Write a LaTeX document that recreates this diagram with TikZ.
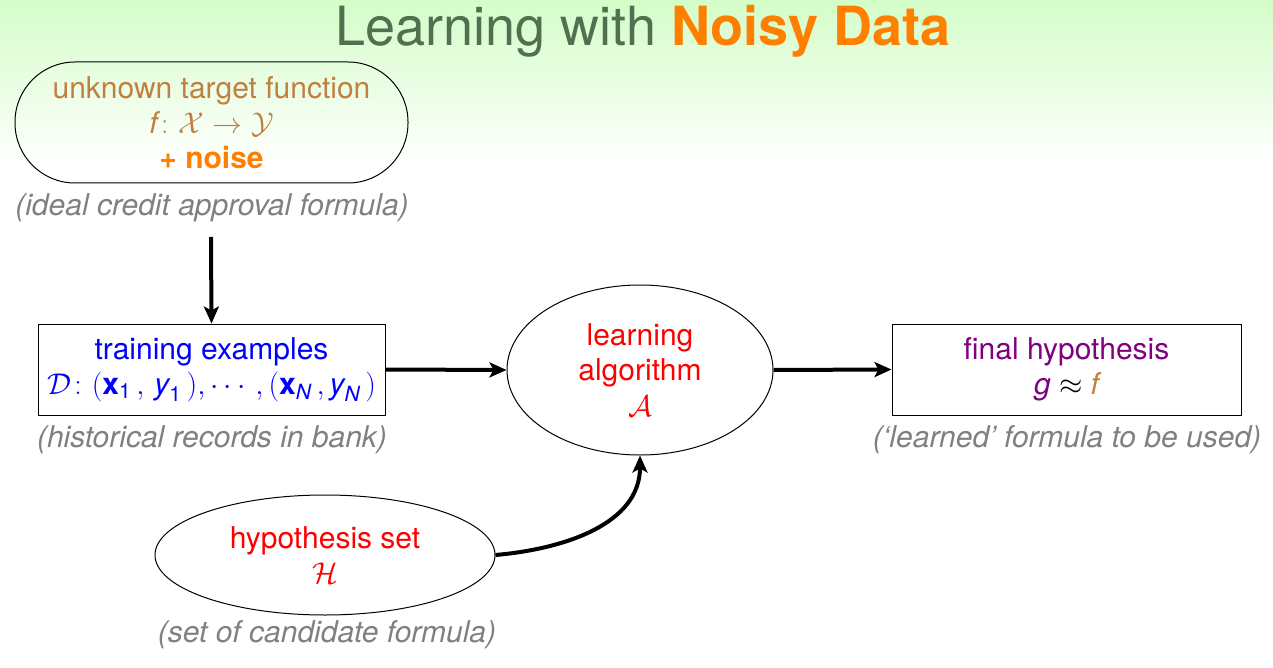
\documentclass[tikz,border=0pt]{standalone}
\usepackage{fix-cm}
\usepackage{amsmath}
\usepackage{fontspec}
\setmainfont{TeX Gyre Heros}
\usetikzlibrary{shapes.geometric,arrows.meta}

\definecolor{titlegreen}{RGB}{80,112,80}
\definecolor{noiseorange}{RGB}{255,128,0}
\definecolor{targetbrown}{RGB}{192,128,64}
\definecolor{capgray}{RGB}{128,128,128}
\definecolor{hypopurple}{RGB}{128,0,128}
\definecolor{bgtop}{RGB}{212,253,200}

\tikzset{
  txt/.style={font=\fontsize{30}{35}\selectfont, align=center},
  caption/.style={txt, text=capgray, font=\fontsize{30}{35}\selectfont\itshape},
  rectbox/.style={txt, draw, line width=1pt, minimum height=91pt, inner sep=0pt},
  ellnode/.style={txt, draw, ellipse, line width=1pt, inner sep=0pt},
  arr/.style={line width=4pt, -{Stealth[length=17pt,width=15pt,inset=4pt]}},
}

\begin{document}
\begin{tikzpicture}[x=1pt, y=-1pt]
  \useasboundingbox (0,0) rectangle (1273,668);
  % soft green band behind the title
  \shade[top color=bgtop, bottom color=white] (0,0) rectangle (1273,165);

  % title
  \node[font=\fontsize{54}{62}\selectfont, anchor=base] (title) at (643,46)
    {\textcolor{titlegreen}{Learning with} \textcolor{noiseorange}{\bfseries Noisy Data}};

  % target function
  \node[txt, draw, line width=1pt, rounded corners=60pt, minimum width=393pt,
        minimum height=121pt, inner sep=0pt, text=targetbrown] (target) at (211.5,122.5)
    {unknown target function\\
     $\textit{f}\colon \mathcal{X}\to\mathcal{Y}$\\
     \textcolor{noiseorange}{\bfseries + noise}};
  \node[caption] (targetcap) at (212,208) {(ideal credit approval formula)};
  \coordinate (targetout) at (211,237);

  % training examples
  \node[rectbox, minimum width=347pt, text=blue] (train) at (211.5,369.5)
    {training examples\\
     $\mathcal{D}\colon (\textbf{x}_{\text{1}}\,,\, \textit{y}_{\text{1}}\,), \cdots\,, (\textbf{x}_{\textit{N}}\,, \textit{y}_{\textit{N}}\,)$};
  \node[caption] (traincap) at (212,440) {(historical records in bank)};

  % learning algorithm
  \node[ellnode, minimum width=266pt, minimum height=170pt, text=red] (learn) at (640,370)
    {learning\\ algorithm\\[1pt] $\mathcal{A}$};

  % final hypothesis
  \node[rectbox, minimum width=349pt, text=hypopurple] (final) at (1066.5,369.5)
    {final hypothesis\\
     $\textit{g}\mathrel{\textcolor{black}{\approx}}\textcolor{targetbrown}{\textit{f}}$};
  \node[caption] (finalcap) at (1067,440) {(`learned' formula to be used)};

  % hypothesis set
  \node[ellnode, minimum width=340pt, minimum height=120pt, text=red] (hyp) at (325,555)
    {hypothesis set\\ $\mathcal{H}$};
  \node[caption] (hypcap) at (327,635) {(set of candidate formula)};

  % connectors
  \draw[arr] (targetout) -- (train.north);
  \draw[arr] (train.east) -- (learn.west);
  \draw[arr] (learn.east) -- (final.west);
  \draw[arr] (hyp.east) to[out=5, in=-90] (learn.south);
\end{tikzpicture}
\end{document}
